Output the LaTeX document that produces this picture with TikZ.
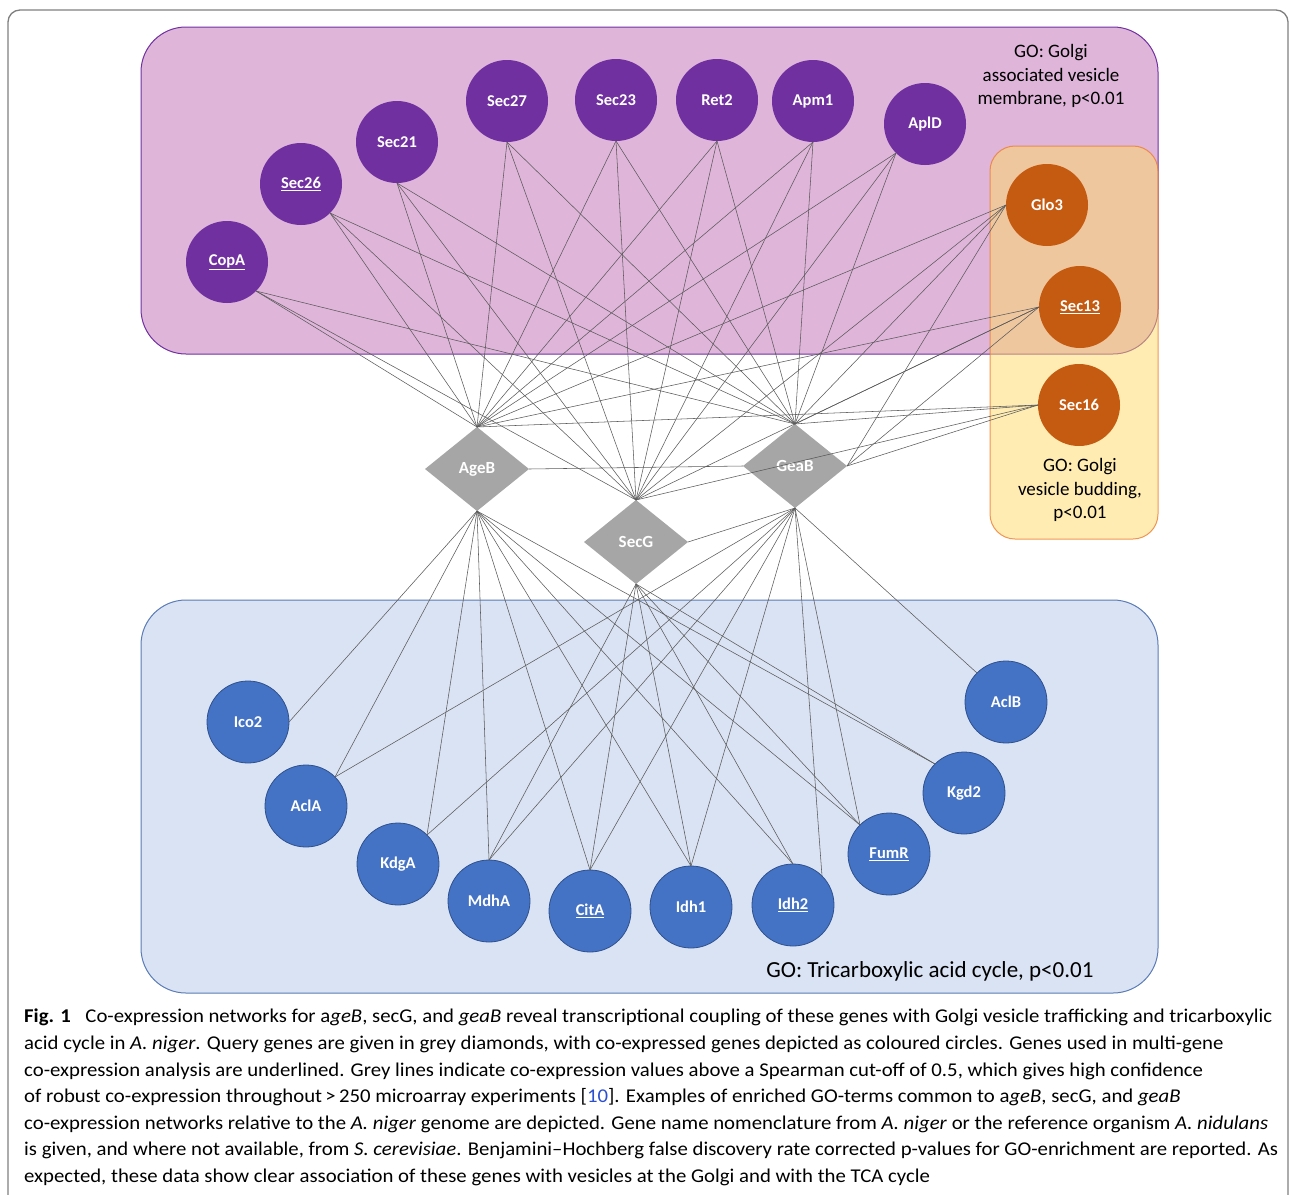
\documentclass[tikz,border=0pt]{standalone}
\usepackage{fontspec}
\setmainfont{Carlito}
\newfontfamily\capfont[FakeStretch=1.065]{Carlito}
\usetikzlibrary{shapes.geometric}
\definecolor{golgifill}{HTML}{DFB5DA}
\definecolor{golgiedge}{HTML}{7030A0}
\definecolor{golginode}{HTML}{7030A0}
\definecolor{budfill}{HTML}{FFD966}
\definecolor{budedge}{HTML}{ED7D31}
\definecolor{budnode}{HTML}{C55A11}
\definecolor{tcafill}{HTML}{DAE3F3}
\definecolor{tcaedge}{HTML}{5A7BB5}
\definecolor{tcanode}{HTML}{4472C4}
\definecolor{tcaring}{HTML}{2F528F}
\definecolor{querygrey}{HTML}{A6A6A6}
\definecolor{linkgrey}{HTML}{5A5A5A}
\definecolor{framegrey}{HTML}{7F7F7F}
\definecolor{refblue}{HTML}{2A4FD0}

\begin{document}
\begin{tikzpicture}[x=1pt, y=-1pt,
  gene/.style={circle, minimum size=82pt, inner sep=0pt, outer sep=0pt,
    text=white, font=\bfseries\fontsize{16.5}{19}\selectfont},
  golgi/.style={gene, fill=golginode},
  budding/.style={gene, fill=budnode},
  tca/.style={gene, fill=tcanode, draw=tcaring, line width=0.8pt},
  query/.style={diamond, fill=querygrey, minimum width=104pt,
    minimum height=84pt, inner sep=0pt, outer sep=0pt, text=white,
    font=\bfseries\fontsize{17}{19}\selectfont},
  link/.style={draw=linkgrey, line width=0.55pt},
  goterm/.style={align=center, font=\fontsize{19}{23.3}\selectfont}]
  \useasboundingbox (0,0) rectangle (1290,1194);

  % Frame round figure and caption
  \draw[framegrey, line width=1.3pt, rounded corners=12pt]
    (8,1240) -- (8,10) -- (1288,10) -- (1288,1240);

  % GO boxes
  \draw[golgiedge, fill=golgifill, line width=1pt, rounded corners=45pt]
    (141,27) rectangle (1158,354);
  \draw[budedge, draw opacity=0.8, fill=budfill, fill opacity=0.5,
        line width=1pt, rounded corners=25pt]
    (990,146) rectangle (1158,539);
  \draw[tcaedge, fill=tcafill, line width=1pt, rounded corners=45pt]
    (141,600) rectangle (1158,993);

  \node[goterm] (go-membrane) at (1051,76)
    {GO: Golgi\\associated vesicle\\membrane, p<0.01};
  \node[goterm] (go-budding) at (1080,490)
    {GO: Golgi\\vesicle budding,\\p<0.01};
  \node[font=\fontsize{23}{26}\selectfont, anchor=east] (go-tca) at (1097,971)
    {GO: Tricarboxylic acid cycle, p<0.01};

  % Query genes
  \node[query] (ageb) at (477,469) {AgeB};
  \node[query] (secg) at (636,542) {SecG};
  \node[query] (geab) at (795,466) {GeaB};

  % Golgi associated vesicle membrane
  \node[golgi] (copa)  at (227,262) {\underline{CopA}};
  \node[golgi] (sec26) at (301,184) {\underline{Sec26}};
  \node[golgi] (sec21) at (397,142) {Sec21};
  \node[golgi] (sec27) at (507,101) {Sec27};
  \node[golgi] (sec23) at (616,100) {Sec23};
  \node[golgi] (ret2)  at (717,100) {Ret2};
  \node[golgi] (apm1)  at (813,101) {Apm1};
  \node[golgi] (apld)  at (925,124) {AplD};

  % Golgi vesicle budding
  \node[budding] (glo3)  at (1047,205) {Glo3};
  \node[budding] (sec13) at (1080,307) {\underline{Sec13}};
  \node[budding] (sec16) at (1079,405) {Sec16};

  % Tricarboxylic acid cycle
  \node[tca] (ico2) at (248,722) {Ico2};
  \node[tca] (acla) at (306,806) {AclA};
  \node[tca] (kdga) at (398,864) {KdgA};
  \node[tca] (mdha) at (489,901) {MdhA};
  \node[tca] (cita) at (590,911) {\underline{CitA}};
  \node[tca] (idh1) at (691,907) {Idh1};
  \node[tca] (idh2) at (793,905) {\underline{Idh2}};
  \node[tca] (fumr) at (889,854) {\underline{FumR}};
  \node[tca] (kgd2) at (964,793) {Kgd2};
  \node[tca] (aclb) at (1006,702) {AclB};

  % Co-expression links
  \foreach \g/\a in {copa/south east, sec26/south east, sec21/south,
      sec27/south, sec23/south, ret2/south, apm1/south, apld/south west,
      glo3/west, sec13/west, sec16/west}
    \foreach \q in {ageb, secg, geab}
      \draw[link] (\g.\a) -- (\q.north);
  \foreach \g in {glo3, sec13, sec16}
    \draw[link] (\g.west) -- (geab.east);

  \foreach \g/\a/\q in {ico2/east/ageb, acla/north east/ageb,
      acla/north east/geab, kdga/north east/ageb, kdga/north east/geab,
      mdha/north/ageb, mdha/north/secg, mdha/north/geab,
      cita/north/ageb, cita/north/secg, cita/north/geab,
      idh1/north/ageb, idh1/north/secg, idh1/north/geab,
      idh2/north/ageb, idh2/north/secg, idh2/north east/geab,
      fumr/north west/ageb, fumr/north west/secg, fumr/north west/geab,
      kgd2/north west/ageb, kgd2/north west/secg, aclb/north west/geab}
    \draw[link] (\g.\a) -- (\q.south);

  \draw[link] (ageb.east) -- (geab.west);
  \draw[link] (secg.east) -- (geab.south);

  % Caption
  \node[anchor=north west, align=left, inner sep=0pt,
        font=\capfont\fontsize{19.5}{26.6}\selectfont] (caption) at (24,1009)
    {\textbf{Fig. 1}\hspace{0.5em} Co-expression networks for a\textit{geB}, secG, and \textit{geaB} reveal transcriptional coupling of these genes with Golgi vesicle trafficking and tricarboxylic\\
     acid cycle in \textit{A. niger}. Query genes are given in grey diamonds, with co-expressed genes depicted as coloured circles. Genes used in multi-gene\\
     co-expression analysis are underlined. Grey lines indicate co-expression values above a Spearman cut-off of 0.5, which gives high confidence\\
     of robust co-expression throughout\,>\,250 microarray experiments [\textcolor{refblue}{10}]. Examples of enriched GO-terms common to a\textit{geB}, secG, and \textit{geaB}\\
     co-expression networks relative to the \textit{A. niger} genome are depicted. Gene name nomenclature from \textit{A. niger} or the reference organism \textit{A. nidulans}\\
     is given, and where not available, from \textit{S. cerevisiae}. Benjamini–Hochberg false discovery rate corrected p-values for GO-enrichment are reported. As\\
     expected, these data show clear association of these genes with vesicles at the Golgi and with the TCA cycle};
\end{tikzpicture}
\end{document}
